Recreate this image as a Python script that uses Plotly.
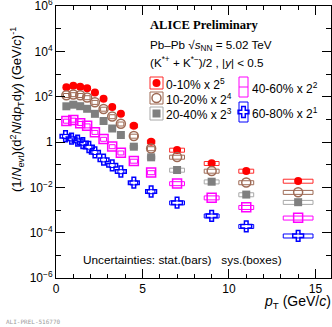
import plotly.graph_objects as go

# ---------------- data (already scaled) ----------------
pt = [0.6, 1.0, 1.4, 1.8, 2.25, 2.75, 3.25, 3.75, 4.5, 5.5, 7.0, 9.0, 11.0, 14.0]
pt_half = [0.2, 0.2, 0.2, 0.2, 0.25, 0.25, 0.25, 0.25, 0.5, 0.5, 1.0, 1.0, 1.0, 2.0]
pt_6080 = [0.55, 0.9, 1.25, 1.55, 1.9, 2.25, 2.75, 3.25, 3.75, 4.5, 5.5, 7.0, 9.0, 11.0, 14.0]
pt_half_6080 = [0.2, 0.15, 0.15, 0.15, 0.15, 0.25, 0.25, 0.25, 0.25, 0.5, 0.5, 1.0, 1.0, 1.0, 2.0]

y_0_10 = [262, 301, 272, 236, 153, 81.3, 35.0, 17.5, 5.24, 1.03, 0.444, 0.115, 0.0526, 0.019]
y_10_20 = [115, 125, 115, 91.9, 57.0, 28.6, 13.3, 6.35, 1.84, 0.516, 0.218, 0.0526, 0.0163, 0.0061]
y_20_40 = [37.6, 44.2, 38.0, 29.2, 17.5, 8.45, 3.94, 2.04, 0.621, 0.211, 0.0582, 0.0177, 0.00479, 0.00221]
y_40_60 = [8.45, 9.35, 6.69, 5.24, 2.70, 1.34, 0.634, 0.335, 0.145, 0.0451, 0.0148, 0.00349, 0.00132, 0.00045]
y_60_80 = [1.79, 1.40, 1.14, 0.90, 0.602, 0.351, 0.166, 0.0938, 0.050, 0.016, 0.00655, 0.0021,
           0.000555, 0.000191, 0.0000728]

sys_rel = 0.2  # relative size of the systematic boxes

y_tickvals = [1e6, 1e4, 1e2, 1, 1e-2, 1e-4, 1e-6]
y_ticktext = ["10<sup>6</sup>", "10<sup>4</sup>", "10<sup>2</sup>", "1",
              "10<sup>−2</sup>", "10<sup>−4</sup>", "10<sup>−6</sup>"]
y_minorvals = [1e5, 1e3, 10, 0.1, 1e-3, 1e-5]
x_tickvals = [0, 5, 10, 15]

series = [
    dict(name="0-10% x 2<sup>5</sup>", x=pt, hw=pt_half, y=y_0_10, color="#ff0000",
         box="#ff2a2a", symbol="circle", filled=True),
    dict(name="10-20% x 2<sup>4</sup>", x=pt, hw=pt_half, y=y_10_20, color="#9e6a55",
         box="#9e6a55", symbol="circle-open", filled=False),
    dict(name="20-40% x 2<sup>3</sup>", x=pt, hw=pt_half, y=y_20_40, color="#7f7f7f",
         box="#a8a8a8", symbol="square", filled=True),
    dict(name="40-60% x 2<sup>2</sup>", x=pt, hw=pt_half, y=y_40_60, color="#ff00ff",
         box="#ff00ff", symbol="square-open", filled=False),
    dict(name="60-80% x 2<sup>1</sup>", x=pt_6080, hw=pt_half_6080, y=y_60_80, color="#0000ff",
         box="#0000ff", symbol="cross-open", filled=False),
]

# ---------------- geometry ----------------
W, H = 332, 327
L, R, T, B = 56, 1, 6, 49
PX0, PX1 = L, W - R
PY0, PY1 = T, H - B


def px2paper(px, py):
    return (px - PX0) / (PX1 - PX0), (PY1 - py) / (PY1 - PY0)


fig = go.Figure()

# systematic boxes
for s in series:
    bx, by = [], []
    for xc, hw, yc in zip(s["x"], s["hw"], s["y"]):
        h = max(0.43 * hw, 0.17)
        lo, hi = yc * (1 - sys_rel), yc * (1 + sys_rel)
        bx += [xc - h, xc + h, xc + h, xc - h, xc - h, None]
        by += [lo, lo, hi, hi, lo, None]
    fig.add_trace(go.Scatter(x=bx, y=by, mode="lines", line=dict(color=s["box"], width=1),
                             hoverinfo="skip", showlegend=False, cliponaxis=True))

# markers
for s in series:
    mk = dict(symbol=s["symbol"], size=8, color=s["color"])
    if not s["filled"]:
        mk["line"] = dict(color=s["color"], width=1.5)
        mk["size"] = 9
    fig.add_trace(go.Scatter(x=s["x"], y=s["y"], mode="markers", marker=mk,
                             showlegend=False))

# ---------------- legend (drawn in a pixel-coordinate overlay) ----------------
leg = [
    # (series index, box x0, x1, y0, y1, text x, text y)
    (0, 150, 163, 77, 89, 164, 83.5),
    (1, 150, 163, 92, 104, 164, 98.5),
    (2, 150, 163, 107, 120, 164, 114),
    (3, 239, 248, 77, 97, 250, 88),
    (4, 239, 248, 102, 122, 250, 113),
]
shapes = []
annotations = []
for idx, x0, x1, y0, y1, tx, ty in leg:
    s = series[idx]
    shapes.append(dict(type="rect", xref="x2", yref="y2", x0=x0, x1=x1, y0=y0, y1=y1,
                       line=dict(color=s["box"], width=1)))
    if idx == 3:
        shapes.append(dict(type="line", xref="x2", yref="y2", x0=x0, x1=x1,
                           y0=(y0 + y1) / 2, y1=(y0 + y1) / 2,
                           line=dict(color=s["box"], width=1)))
    else:
        mk = dict(symbol=s["symbol"], size=8, color=s["color"])
        if not s["filled"]:
            mk["line"] = dict(color=s["color"], width=1.5)
            mk["size"] = 9
        fig.add_trace(go.Scatter(x=[(x0 + x1) / 2], y=[(y0 + y1) / 2], xaxis="x2", yaxis="y2",
                                 mode="markers", marker=mk, showlegend=False,
                                 cliponaxis=False))
    px, py = px2paper(tx, ty)
    annotations.append(dict(x=px, y=py, xref="paper", yref="paper", xanchor="left",
                            yanchor="middle", showarrow=False, text=s["name"],
                            font=dict(family="Liberation Sans, Arial", size=12,
                                      color="black")))


def add_text(text, px, py, size, xanchor="left", family="Liberation Sans, Arial",
             color="black", angle=0, yanchor="middle"):
    x, y = px2paper(px, py)
    annotations.append(dict(x=x, y=y, xref="paper", yref="paper", xanchor=xanchor,
                            yanchor=yanchor, showarrow=False, text=text,
                            textangle=angle, font=dict(family=family, size=size,
                                                       color=color)))


add_text("<b>ALICE Preliminary</b>", 148, 25, 12.6, family="Liberation Serif, Times New Roman")
add_text("Pb–Pb √<i>s</i><sub>NN</sub> = 5.02 TeV", 148, 45, 11.7)
add_text("(K<sup>*+</sup> + K<sup>*−</sup>)/2 , |<i>y</i>| < 0.5", 148, 62, 11.7)
add_text("Uncertainties: stat.(bars)   sys.(boxes)", 81, 260, 11.8)
add_text("<i>p</i><sub>T</sub> (GeV/<i>c</i>)", 333, 302, 14, xanchor="right")
add_text("(1/<i>N</i><sub>evt</sub>)(d<sup>2</sup><i>N</i>/d<i>p</i><sub>T</sub>d<i>y</i>) (GeV/<i>c</i>)<sup>-1</sup>",
         17, 110, 13, xanchor="center", angle=-90)
add_text("ALI-PREL-516770", 4, 321, 6, family="DejaVu Sans Mono", color="#9a9a9a")

axis_font = dict(family="Liberation Sans, Arial", size=12, color="black")

fig.update_layout(
    width=W, height=H,
    margin=dict(l=L, r=R, t=T, b=B, pad=0, autoexpand=False),
    paper_bgcolor="white", plot_bgcolor="white",
    showlegend=False,
    xaxis=dict(range=[0, 15.9], showgrid=False, zeroline=False, showline=True,
               automargin=False, ticklabeloverflow="allow",
               linecolor="black", linewidth=1, mirror="ticks", ticks="inside",
               ticklen=9, tickcolor="black", tickvals=x_tickvals, tickfont=axis_font,
               minor=dict(dtick=1, tick0=0, ticklen=4, ticks="inside", tickcolor="black",
                          showgrid=False)),
    yaxis=dict(type="log", range=[-6.0002, 6.0002], showgrid=False, zeroline=False,
               showline=True, automargin=False, ticklabeloverflow="allow",
               linecolor="black", linewidth=1, mirror="ticks", ticks="inside",
               ticklen=9, tickcolor="black", tickvals=y_tickvals, ticktext=y_ticktext,
               tickfont=axis_font,
               minor=dict(tickmode="array", tickvals=y_minorvals, ticklen=5,
                          ticks="inside", tickcolor="black", showgrid=False)),
    xaxis2=dict(range=[PX0, PX1], overlaying="x", visible=False, fixedrange=True),
    yaxis2=dict(range=[PY1, PY0], overlaying="y", visible=False, fixedrange=True),
    shapes=shapes,
    annotations=annotations,
)

fig.write_html("out.html", config={"displayModeBar": False},
               post_script="document.body.style.margin='0';document.body.style.padding='0';"
                           "document.body.style.overflow='hidden';")
